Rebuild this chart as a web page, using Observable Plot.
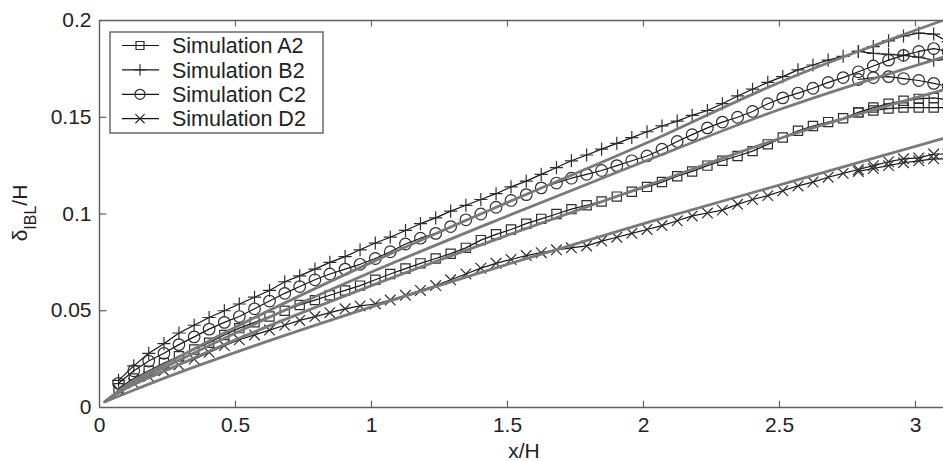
<!DOCTYPE html>
<html><head><meta charset="utf-8">
<script src="https://cdn.jsdelivr.net/npm/d3@7"></script>
<script src="https://cdn.jsdelivr.net/npm/@observablehq/plot@0.6"></script>
<style>
body{margin:0;background:#fff;font-family:"Liberation Sans",Arial,sans-serif}
#wrap{position:relative;width:943px;height:461px;overflow:hidden}
</style>
</head><body><div id="wrap"></div>
<script>
// ---- data ----
const xTicks = [0, 0.5, 1, 1.5, 2, 2.5, 3];
const yTicks = [0, 0.05, 0.1, 0.15, 0.2];
const seriesNames = ["Simulation A2", "Simulation B2", "Simulation C2", "Simulation D2"];

const xGrid = [0.07,0.126,0.181,0.237,0.292,0.348,0.403,0.459,0.514,0.57,
  0.625,0.681,0.736,0.792,0.847,0.903,0.958,1.014,1.069,1.125,
  1.18,1.236,1.291,1.347,1.402,1.458,1.513,1.569,1.624,1.68,
  1.735,1.791,1.846,1.902,1.957,2.013,2.068,2.124,2.179,2.235,
  2.29,2.346,2.401,2.457,2.512,2.568,2.623,2.679,2.734,2.79,
  2.845,2.901,2.956,3.012,3.067];

const simA2 = [0.010,0.015,0.019,0.023,0.0265,0.030,0.0335,0.0375,0.041,0.044,
  0.047,0.050,0.053,0.0555,0.058,0.0605,0.063,0.066,0.069,0.0718,
  0.0745,0.077,0.0795,0.0825,0.0865,0.0895,0.092,0.095,0.0975,0.100,
  0.1025,0.1045,0.1065,0.109,0.1115,0.114,0.1165,0.1195,0.122,0.125,
  0.1275,0.130,0.1325,0.136,0.1395,0.143,0.1455,0.1475,0.1495,0.1525,
  0.155,0.157,0.1585,0.1595,0.160];
const simB2 = [0.014,0.0215,0.028,0.033,0.0385,0.0425,0.0465,0.050,0.0535,0.057,
  0.0605,0.065,0.068,0.0715,0.075,0.078,0.0815,0.085,0.088,0.0915,
  0.095,0.098,0.1015,0.1045,0.1075,0.1105,0.114,0.117,0.1205,0.124,
  0.1275,0.1305,0.1335,0.1365,0.1395,0.1425,0.1455,0.148,0.151,0.1535,
  0.157,0.161,0.1645,0.168,0.171,0.1745,0.177,0.1795,0.1815,0.184,
  0.1865,0.1895,0.192,0.1935,0.193];
const simC2 = [0.0125,0.019,0.024,0.028,0.0325,0.0365,0.0405,0.044,0.047,0.051,
  0.055,0.059,0.0625,0.066,0.069,0.0715,0.074,0.077,0.0805,0.0845,
  0.0875,0.090,0.0935,0.097,0.100,0.1035,0.107,0.110,0.1135,0.116,
  0.1185,0.1205,0.1225,0.125,0.1275,0.130,0.1335,0.1375,0.141,0.1445,
  0.1475,0.150,0.153,0.157,0.160,0.1625,0.165,0.168,0.1705,0.1735,
  0.1765,0.1795,0.182,0.184,0.1855];
const simD2 = [0.009,0.0125,0.016,0.019,0.022,0.025,0.0285,0.032,0.035,0.0375,
  0.040,0.0425,0.045,0.047,0.049,0.051,0.0525,0.0535,0.0555,0.058,
  0.0605,0.063,0.066,0.069,0.072,0.0745,0.0765,0.0785,0.080,0.0815,
  0.0825,0.0835,0.086,0.088,0.090,0.092,0.094,0.0965,0.099,0.1005,
  0.102,0.105,0.1075,0.1095,0.112,0.1145,0.1165,0.119,0.121,0.123,
  0.125,0.127,0.1285,0.129,0.131];

// return branch at the downstream end (curves fold back)
const backX  = [3.12, 3.12, 3.067, 3.012, 2.956, 2.901, 2.845, 2.79];
const backA2 = [0.159, 0.155, 0.155, 0.155, 0.155, 0.1545, 0.1535, 0.1525];
const backB2 = [0.189, 0.180, 0.1795, 0.181, 0.182, 0.1825, 0.183, 0.184];
const backC2 = [0.184, 0.166, 0.1675, 0.169, 0.170, 0.171, 0.1705, 0.1695];
const backD2 = [0.131, 0.1285, 0.1285, 0.1275, 0.1265, 0.125, 0.1235, 0.122];

// fitted curves (grey)
const fitX  = [0.02, 0.1, 0.25, 0.5, 1, 1.5, 2, 2.5, 3.1];
const fitA2 = [0.003, 0.010, 0.0195, 0.035, 0.063, 0.089, 0.114, 0.139, 0.164];
const fitB2 = [0.003, 0.0115, 0.023, 0.0415, 0.075, 0.106, 0.136, 0.168, 0.2];
const fitC2 = [0.003, 0.011, 0.0215, 0.0385, 0.070, 0.099, 0.127, 0.154, 0.181];
const fitD2 = [0.003, 0.0075, 0.0158, 0.0285, 0.052, 0.074, 0.095, 0.115, 0.139];

// ---- build ----
const symbols = ["square", "plus", "circle", "times"];
const radii = [5.2, 4.3, 5.8, 4.9];
const sims = [simA2, simB2, simC2, simD2];
const backs = [backA2, backB2, backC2, backD2];
const fits = [fitA2, fitB2, fitC2, fitD2];

const simData = sims.map((ys, k) =>
  xGrid.map((x, i) => ({x, y: ys[i]})).concat(backX.map((x, i) => ({x, y: backs[k][i]}))));
const fitData = fits.map(ys => fitX.map((x, i) => ({x, y: ys[i]})));

const AX = "#5f5f5f";
const FIT = "#7a7a7a";
const LINE = "#161616";
const MK = "#2e2e2e";
const FS = 21;

const marks = [
  Plot.axisX({ticks: xTicks, tickSize: 0, tickPadding: 10, label: null, tickFormat: d => String(d)}),
  Plot.axisY({ticks: yTicks, tickSize: 0, tickPadding: 8, label: null, tickFormat: d => String(d)})
];
simData.forEach((d, k) => {
  marks.push(Plot.line(d, {x: "x", y: "y", stroke: LINE, strokeWidth: 1.2, clip: true}));
  marks.push(Plot.dot(d, {x: "x", y: "y", symbol: () => symbols[k], r: radii[k], stroke: MK, strokeWidth: 1.2, fill: "none", clip: true}));
});
fitData.forEach(d => {
  marks.push(Plot.line(d, {x: "x", y: "y", stroke: FIT, strokeWidth: 2.8, curve: "monotone-x", clip: true}));
});
// frame lines and inward ticks
marks.push(Plot.ruleY([0, 0.2], {stroke: AX, strokeWidth: 1.4}));
marks.push(Plot.ruleX([0], {stroke: AX, strokeWidth: 1.4}));
marks.push(Plot.ruleX(xTicks.slice(1), {y1: 0, y2: 0.0033, stroke: AX, strokeWidth: 1.2}));
marks.push(Plot.ruleX(xTicks.slice(1), {y1: 0.2, y2: 0.2 - 0.0033, stroke: AX, strokeWidth: 1.2}));
marks.push(Plot.ruleY(yTicks.slice(1, -1), {x1: 0, x2: 0.027, stroke: AX, strokeWidth: 1.2}));

const plot = Plot.plot({
  width: 943, height: 461,
  marginLeft: 99, marginRight: 0, marginTop: 20, marginBottom: 54,
  style: {fontFamily: "'Liberation Sans', Arial, sans-serif", fontSize: FS + "px", color: "#222", background: "#fff", overflow: "visible"},
  x: {domain: [0, 3.103]},
  y: {domain: [0, 0.2]},
  marks
});
document.getElementById("wrap").appendChild(plot);

const svg = d3.select(plot);
// axis labels
svg.append("text").attr("x", 524).attr("y", 458).attr("text-anchor", "middle")
  .attr("fill", "#222").attr("font-size", FS).text("x/H");
const yl = svg.append("text").attr("transform", "translate(27,213) rotate(-90)")
  .attr("text-anchor", "middle").attr("fill", "#222").attr("font-size", FS);
yl.append("tspan").text("δ");
yl.append("tspan").attr("font-size", 16).attr("dy", 9).text("IBL");
yl.append("tspan").attr("dy", -9).text("/H");

// legend
const lg = svg.append("g").attr("transform", "translate(110,32)");
lg.append("rect").attr("width", 213).attr("height", 101).attr("fill", "#fff")
  .attr("stroke", AX).attr("stroke-width", 1.4);
const symMap = {square: d3.symbolSquare, plus: d3.symbolPlus, circle: d3.symbolCircle, times: d3.symbolTimes};
seriesNames.forEach((name, k) => {
  const yy = 13.5 + k * 24.4;
  const row = lg.append("g").attr("transform", `translate(0,${yy})`);
  row.append("line").attr("x1", 12).attr("x2", 49).attr("stroke", LINE).attr("stroke-width", 1.2);
  row.append("path").attr("transform", "translate(30,0)")
    .attr("d", d3.symbol(symMap[symbols[k]], Math.PI * radii[k] * radii[k] * 0.75)())
    .attr("fill", "none").attr("stroke", MK).attr("stroke-width", 1.2);
  row.append("text").attr("x", 62).attr("dy", "0.36em").attr("text-anchor", "start").attr("fill", "#222")
    .attr("font-size", 21.5).text(name);
});
</script>
</body></html>
